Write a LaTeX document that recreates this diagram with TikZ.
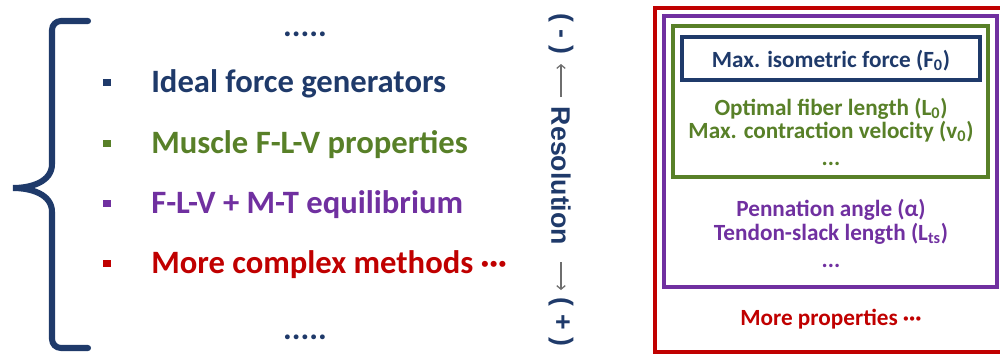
\documentclass[tikz,border=0pt]{standalone}
\usepackage{fontspec}
\setmainfont{Carlito}
\newfontfamily\resfont{Liberation Sans}
\usetikzlibrary{positioning, arrows.meta}
\definecolor{navy}{RGB}{31,58,106}
\definecolor{fgreen}{RGB}{88,128,40}
\definecolor{mpurple}{RGB}{112,48,160}
\definecolor{mred}{RGB}{192,0,0}
\definecolor{arrowgray}{RGB}{110,110,110}
\tikzset{
	itemtext/.style={anchor=base west, inner sep=0pt, font=\fontsize{23.2}{27}\selectfont\bfseries}
}
\tikzset{
	proptext/.style={anchor=base, inner sep=0pt, font=\fontsize{16.5}{18}\selectfont\bfseries}
}
\tikzset{
	restext/.style={rotate=-90, inner sep=0pt, text=navy, font=\fontsize{19}{20}\resfont\bfseries},
	resarrow/.style={draw=arrowgray, line width=0.9pt, -{Straight Barb[length=2.5pt, width=6pt]}},
	bulletbox/.style={fill, minimum size=0.19cm, inner sep=0pt},
	propbox/.style={line width=2.2pt}
}
\newcommand{\pdots}{...}

\begin{document}
\begin{tikzpicture}[x=0.025cm, y=-0.025cm]
      \clip (0,0) rectangle (1000,358);
      \draw[navy, line width=4.3pt, line cap=round] (88,21) -- (61,21) to[out=180,in=90] (52,30) -- (52,164)
        to[out=-90,in=0] (13,188) to[out=0,in=90] (52,212) -- (52,339) to[out=-90,in=180] (61,348) -- (88,348);
      \node[itemtext, anchor=base, text=navy] (dotstop) at (305,36) {.....};
      \node[itemtext, anchor=base, text=navy] (dotsbot) at (305,339) {.....};
      \foreach \yy/\col/\txt [count=\i] in {92/navy/Ideal force generators, 153/fgreen/Muscle F-L-V properties,
          213/mpurple/F-L-V + M-T equilibrium, 273/mred/More complex methods ···} {
        \node[bulletbox, fill=\col] (b\i) at (107,\yy-9.5) {};
        \node[itemtext, text=\col] (item\i) at (151,\yy) {\txt};
      }
      \node[restext] (minus) at (561,34) {( - )};
      \node[restext] (res) at (561,176) {Resolution};
      \node[restext] (plus) at (561,322) {( + )};
      \coordinate (upfoot) at (561,97);
      \coordinate (uphead) at (561,64);
      \coordinate (downfoot) at (561,262);
      \coordinate (downhead) at (561,290);
      \draw[resarrow] (upfoot) -- (uphead);
      \draw[resarrow] (downfoot) -- (downhead);
      \draw[propbox, mred] (655,8) rectangle (1006,352);
      \draw[propbox, mpurple] (664,16) rectangle (997,287);
      \draw[propbox, fgreen] (673,26) rectangle (988,177);
      \draw[propbox, navy] (682,37) rectangle (980,80);
      \foreach \yy/\col/\txt [count=\i] in {67/navy/Max. isometric force (F\textsubscript{0}),
          115/fgreen/Optimal fiber length (L\textsubscript{0}), 138/fgreen/Max. contraction velocity (v\textsubscript{0}),
          165/fgreen/\pdots, 216/mpurple/Pennation angle (α), 240/mpurple/Tendon-slack length (L\textsubscript{ts}),
          267/mpurple/\pdots, 325/mred/More properties ···} {
        \node[proptext, text=\col] (p\i) at (831,\yy) {\txt};
      }
    \end{tikzpicture}
\end{document}
